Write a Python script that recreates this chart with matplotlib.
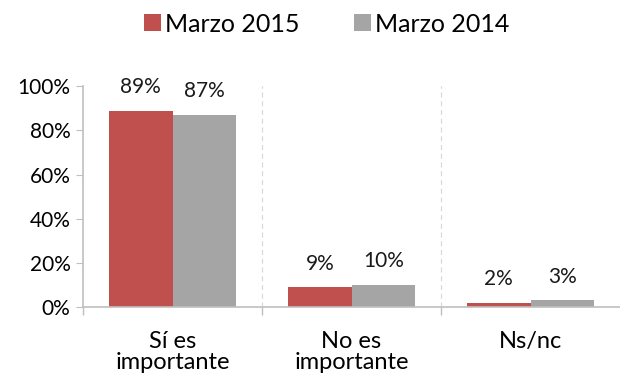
import numpy as np
import matplotlib
matplotlib.use("Agg")
import matplotlib.pyplot as plt
from matplotlib.ticker import FixedLocator, PercentFormatter

categories = ["Sí es\nimportante", "No es\nimportante", "Ns/nc"]
marzo_2015 = [89, 9, 2]
marzo_2014 = [87, 10, 3]
series_names = ["Marzo 2015", "Marzo 2014"]

red = "#C0504D"
grey = "#A5A5A5"
axis_grey = "#BFBFBF"

plt.rcParams["font.family"] = ["Lato", "DejaVu Sans"]

fig = plt.figure(figsize=(6.2, 3.75), dpi=100)
ax = fig.add_axes([0.134, 0.181, 0.866, 0.589])

x = np.arange(len(categories))
w = 0.355
b1 = ax.bar(x - w / 2, marzo_2015, w, color=red, label=series_names[0])
b2 = ax.bar(x + w / 2, marzo_2014, w, color=grey, label=series_names[1])

for bars, vals in ((b1, marzo_2015), (b2, marzo_2014)):
    for rect, v in zip(bars, vals):
        ax.annotate(f"{v}%", (rect.get_x() + rect.get_width() / 2, v),
                    xytext=(0, 17), textcoords="offset points",
                    ha="center", va="center", fontsize=15, color="#1a1a1a")

ax.set_xlim(-0.5, 2.5)
ax.set_ylim(0, 100)
ax.set_yticks(range(0, 101, 20))
ax.yaxis.set_major_formatter(PercentFormatter(decimals=0))
ax.set_xticks(x)
ax.set_xticklabels(categories, fontsize=17, linespacing=1.02)
ax.tick_params(axis="x", length=0, pad=17)
ax.xaxis.set_minor_locator(FixedLocator([-0.5, 0.5, 1.5]))
ax.tick_params(axis="x", which="minor", length=6, color=axis_grey, width=1)
ax.tick_params(axis="y", length=5, color=axis_grey, labelsize=15, pad=4)

# dashed separators between categories
for sep in (0.5, 1.5):
    ax.axvline(sep, color="#D9D9D9", linestyle=(0, (4, 3)), linewidth=0.9, zorder=0)

for side in ("top", "right"):
    ax.spines[side].set_visible(False)
for side in ("left", "bottom"):
    ax.spines[side].set_color(axis_grey)
    ax.spines[side].set_linewidth(1.2)

fig.legend(handles=[b1, b2], loc="center", bbox_to_anchor=(0.527, 0.936), ncol=2,
           frameon=False, fontsize=18, handlelength=0.68, handleheight=0.68,
           handletextpad=0.16, columnspacing=2.2)

fig.savefig("out.png", dpi=100)
